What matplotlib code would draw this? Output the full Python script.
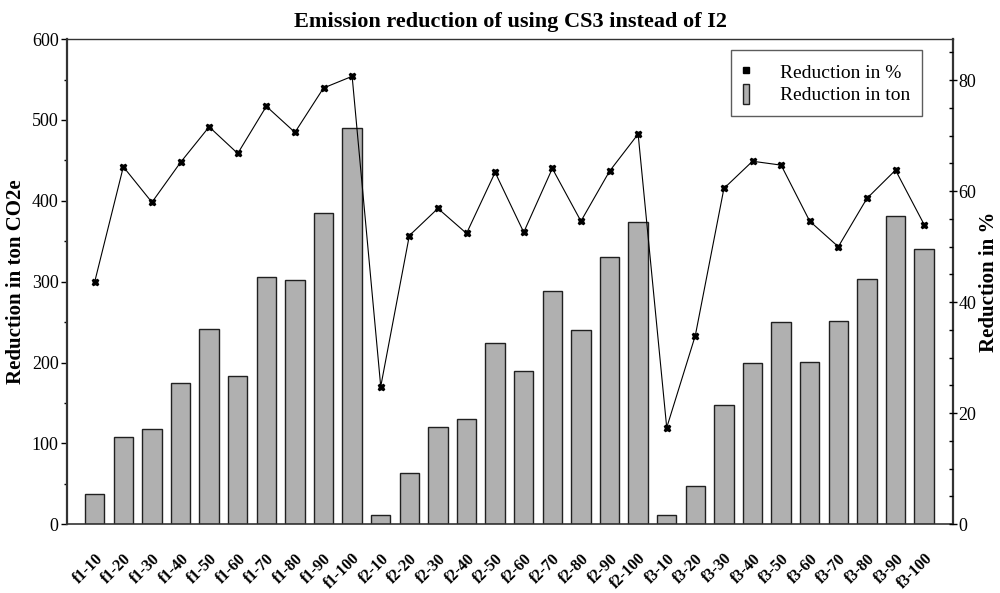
import matplotlib
matplotlib.use("Agg")
import matplotlib.pyplot as plt
from matplotlib.lines import Line2D
from matplotlib.patches import Patch
from matplotlib.ticker import MultipleLocator
import numpy as np

plt.rcParams['font.family'] = ['Liberation Serif', 'DejaVu Serif']

categories = ["f1-10", "f1-20", "f1-30", "f1-40", "f1-50", "f1-60", "f1-70", "f1-80", "f1-90", "f1-100",
              "f2-10", "f2-20", "f2-30", "f2-40", "f2-50", "f2-60", "f2-70", "f2-80", "f2-90", "f2-100",
              "f3-10", "f3-20", "f3-30", "f3-40", "f3-50", "f3-60", "f3-70", "f3-80", "f3-90", "f3-100"]
reduction_ton = [37, 108, 118, 175, 241, 183, 306, 302, 385, 490,
                 12, 63, 120, 130, 224, 190, 288, 240, 331, 374,
                 11, 47, 147, 199, 250, 201, 251, 303, 381, 341]
reduction_pct = [43.7, 64.4, 58.0, 65.2, 71.6, 66.8, 75.3, 70.6, 78.6, 80.7,
                 24.8, 52.0, 56.9, 52.4, 63.4, 52.6, 64.1, 54.6, 63.6, 70.3,
                 17.4, 34.0, 60.5, 65.4, 64.7, 54.6, 50.0, 58.7, 63.8, 54.0]

fig = plt.figure(figsize=(10, 5.93), dpi=100)
ax = fig.add_axes([0.067, 0.116, 0.886, 0.818])
x = np.arange(len(categories))
bar_color = '#b0b0b0'
ax.bar(x, reduction_ton, width=0.68, color=bar_color, edgecolor='#202020', linewidth=1.0, zorder=2)
ax.set_ylim(0, 600)
ax.yaxis.set_major_locator(MultipleLocator(100))
ax.yaxis.set_minor_locator(MultipleLocator(50))
ax.set_xticks(x)
ax.set_xticklabels(categories, rotation=45, ha='right', rotation_mode='anchor', fontweight='bold', fontsize=11.5)
ax.tick_params(axis='x', length=0, pad=19)
ax.tick_params(axis='y', which='major', direction='out', length=4, labelsize=13, width=1, pad=2)
ax.tick_params(axis='y', which='minor', direction='out', length=2.5, width=1)
ax.set_ylabel('Reduction in ton CO2e', fontsize=15, fontweight='bold', labelpad=4)
for s in ax.spines.values():
    s.set_color('#333333')
ax.spines['left'].set_linewidth(1.6)
ax.spines['bottom'].set_linewidth(1.2)
ax.spines['top'].set_linewidth(1.0)
ax.spines['right'].set_linewidth(1.6)

ax2 = ax.twinx()
ax2.plot(x, reduction_pct, color='black', linewidth=0.8, marker='X', markersize=5,
         markerfacecolor='black', markeredgecolor='black', zorder=3)
ax2.set_ylim(0, 87.4)
ax2.yaxis.set_major_locator(MultipleLocator(20))
ax2.yaxis.set_minor_locator(MultipleLocator(5))
ax2.tick_params(axis='y', which='major', direction='inout', length=6, labelsize=13, width=1, pad=1)
ax2.tick_params(axis='y', which='minor', direction='in', length=3, width=1)
ax2.set_ylabel('Reduction in %', fontsize=15, fontweight='bold', labelpad=2)
for s in ax2.spines.values():
    s.set_visible(False)
ax.set_xlim(-0.97, 30.01)

ax.set_title('Emission reduction of using CS3 instead of I2', fontsize=16, fontweight='bold', pad=9)

handles = [Line2D([], [], linestyle='none', marker='s', markersize=4, color='black'),
           Patch(facecolor=bar_color, edgecolor='#202020', linewidth=1.0)]
leg = ax2.legend(handles, ['Reduction in %', 'Reduction in ton'], loc='upper right',
                 bbox_to_anchor=(0.972, 0.99), fontsize=14, frameon=True, fancybox=False,
                 edgecolor='#333333', handlelength=0.35, handleheight=1.2, handletextpad=1.6,
                 borderpad=0.6, labelspacing=0.1, borderaxespad=0.3)
leg.get_frame().set_linewidth(1.0)

fig.savefig('out.png', dpi=100)
